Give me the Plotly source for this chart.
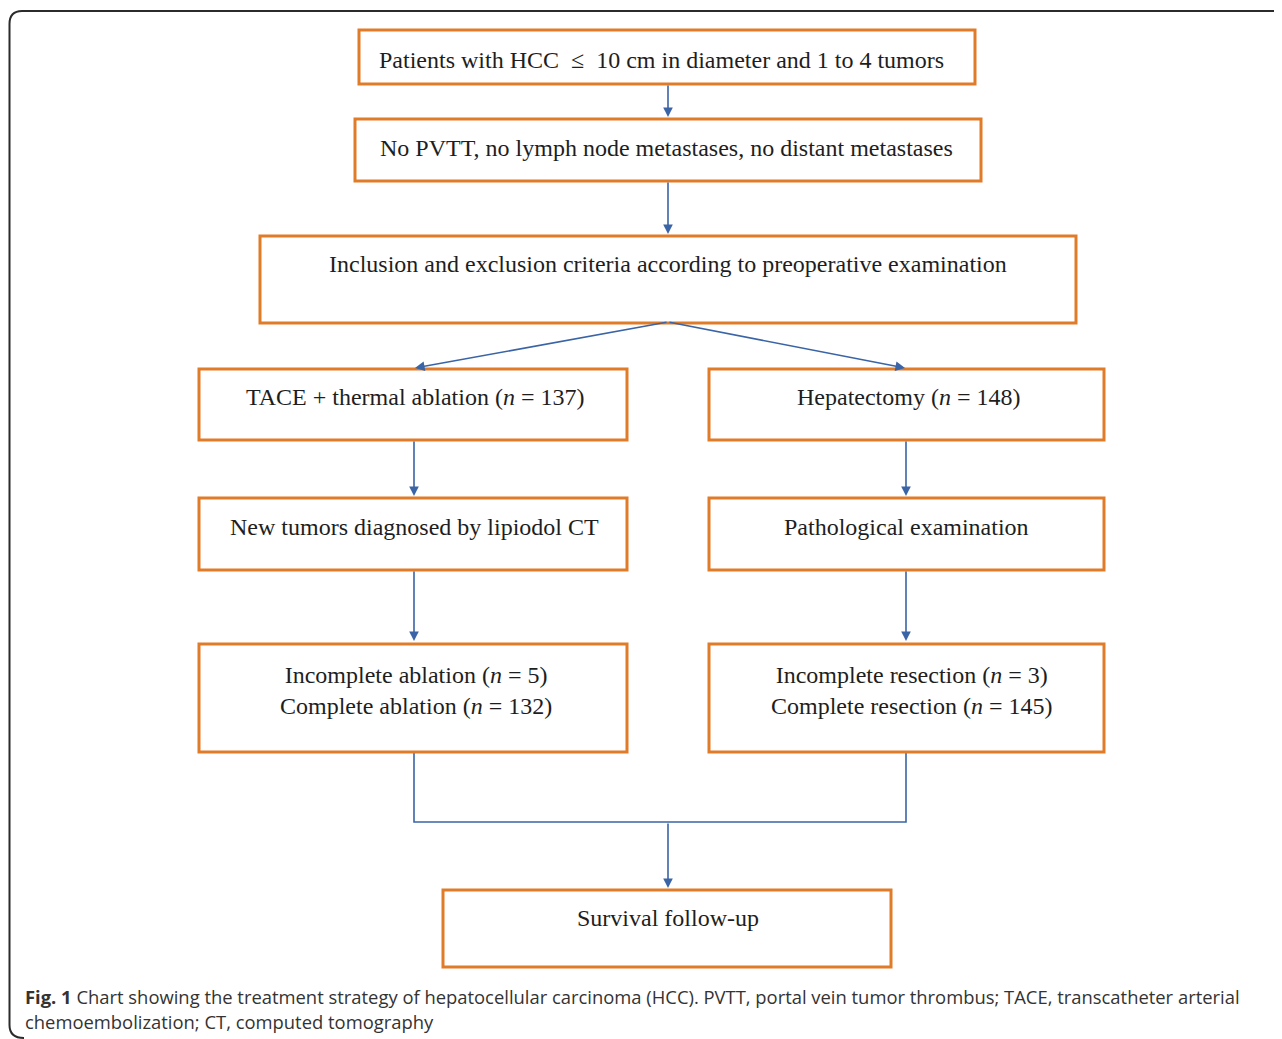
import plotly.graph_objects as go

# ---- content ----
box_texts = [
    "Patients with HCC  \u2264  10 cm in diameter and 1 to 4 tumors",
    "No PVTT, no lymph node metastases, no distant metastases",
    "Inclusion and exclusion criteria according to preoperative examination",
    "TACE + thermal ablation (<i>n</i> = 137)",
    "Hepatectomy (<i>n</i> = 148)",
    "New tumors diagnosed by lipiodol CT",
    "Pathological examination",
    "Incomplete ablation (<i>n</i> = 5)<br>Complete ablation (<i>n</i> = 132)",
    "Incomplete resection (<i>n</i> = 3)<br>Complete resection (<i>n</i> = 145)",
    "Survival follow-up",
]
caption_line1 = ("<b>Fig. 1</b> Chart showing the treatment strategy of hepatocellular carcinoma (HCC). "
                 "PVTT, portal vein tumor thrombus; TACE, transcatheter arterial")
caption_line2 = "chemoembolization; CT, computed tomography"

# ---- layout (pixel coordinates of the page) ----
box_geom = [  # x0, x1, y0, y1, text_x, text_y
    (359, 975, 30, 84, 661, 60),
    (355, 981, 119, 181, 666, 148),
    (260, 1076, 236, 323, 668, 264),
    (199, 627, 369, 440, 415, 397),
    (709, 1104, 369, 440, 908, 397),
    (199, 627, 498, 570, 414, 527),
    (709, 1104, 498, 570, 906, 527),
    (199, 627, 644, 752, 416, 690),
    (709, 1104, 644, 752, 911, 690),
    (443, 891, 890, 967, 668, 918),
]
arrows = [  # tail x, tail y, head x, head y
    (668, 84, 668, 117),
    (668, 181, 668, 234),
    (668, 322, 415, 368),
    (668, 322, 905, 368),
    (414, 440, 414, 496),
    (906, 440, 906, 496),
    (414, 570, 414, 641),
    (906, 570, 906, 641),
    (668, 822, 668, 888),
]

ORANGE = "#E07B28"
BLUE = "#3A64A6"
TEXT = "#1e1e1e"
OFF = 8  # page body margin

fig = go.Figure()
fig.add_trace(go.Scatter(x=[OFF, 1282], y=[OFF, 1039], mode="markers",
                         marker=dict(opacity=0), hoverinfo="skip", showlegend=False))

shapes = []
# outer frame
shapes.append(dict(type="path", xref="x", yref="y",
                   path="M 1300,11 L 22,11 Q 9.5,11 9.5,24 L 9.5,1025 Q 9.5,1038 24,1038",
                   line=dict(color="#2b2b2b", width=2)))
# connector line at bottom
shapes.append(dict(type="path", xref="x", yref="y",
                   path="M 414,752 L 414,822 L 906,822 L 906,752",
                   line=dict(color=BLUE, width=1.6)))
for (x0, x1, y0, y1, tx, ty) in box_geom:
    shapes.append(dict(type="rect", xref="x", yref="y", x0=x0, x1=x1, y0=y0, y1=y1,
                       line=dict(color=ORANGE, width=3), fillcolor="rgba(0,0,0,0)"))

annotations = []
for txt, (x0, x1, y0, y1, tx, ty) in zip(box_texts, box_geom):
    annotations.append(dict(x=tx, y=ty, xref="x", yref="y", text=txt,
                            showarrow=False, xanchor="center", yanchor="middle",
                            font=dict(family="Liberation Serif", size=24, color=TEXT)))
for (tx, ty_, hx, hy) in arrows:
    annotations.append(dict(x=hx, y=hy, ax=tx, ay=ty_, xref="x", yref="y",
                            axref="x", ayref="y", text="", showarrow=True,
                            arrowhead=2, arrowsize=1.2, arrowwidth=1.6, arrowcolor=BLUE))
annotations.append(dict(x=23, y=996, xref="x", yref="y", text=caption_line1, showarrow=False,
                        xanchor="left", yanchor="middle",
                        font=dict(family="Open Sans", size=18.4, color="#333333")))
annotations.append(dict(x=23, y=1021, xref="x", yref="y", text=caption_line2, showarrow=False,
                        xanchor="left", yanchor="middle",
                        font=dict(family="Open Sans", size=18.4, color="#333333")))

fig.update_layout(
    width=1282 - OFF, height=1039 - OFF,
    margin=dict(l=0, r=0, t=0, b=0),
    paper_bgcolor="white", plot_bgcolor="white",
    xaxis=dict(range=[OFF, 1282], visible=False, fixedrange=True),
    yaxis=dict(range=[1039, OFF], visible=False, fixedrange=True),
    shapes=shapes, annotations=annotations, showlegend=False,
)
fig.write_html("out.html", config={"displayModeBar": False})
